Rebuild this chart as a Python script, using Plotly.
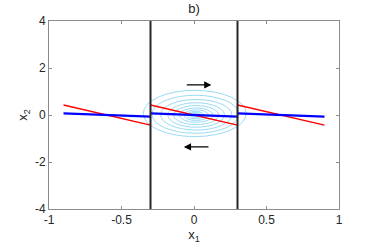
import plotly.graph_objects as go

# ---- data ----
region_centers = [-0.6, 0.0, 0.6]      # centre of each linear segment (x1)
seg_half_width = 0.3
red_y_ends = [0.43, -0.43]             # red line x2 at segment start / end
blue_y_ends = [0.065, -0.065]          # blue line x2 at segment start / end
switch_x = [-0.3, 0.3]                 # vertical boundaries
switch_y = [-4, 4]

# spiral rings (x0, x1, y0, y1) from outermost to innermost
ring_x0 = [-0.35, -0.29, -0.23, -0.18, -0.14, -0.10, -0.07, -0.05, -0.03, -0.015]
ring_x1 = [0.36, 0.31, 0.26, 0.21, 0.17, 0.13, 0.10, 0.07, 0.05, 0.03]
ring_y0 = [-0.92, -0.78, -0.64, -0.52, -0.41, -0.31, -0.23, -0.16, -0.1, -0.06]
ring_y1 = [1.05, 0.84, 0.66, 0.52, 0.4, 0.3, 0.22, 0.15, 0.1, 0.06]

# arrows (tail x, head x, x2 level)
arrow_top = (-0.06, 0.12, 1.28)
arrow_bot = (0.11, -0.07, -1.36)

x_ticks = [-1, -0.5, 0, 0.5, 1]
x_labels = ["-1", "-0.5", "0", "0.5", "1"]
y_ticks = [-4, -2, 0, 2, 4]
y_labels = ["-4", "-2", "0", "2", "4"]

FONT = "Liberation Sans, Arial"
TXT = "#262626"

# ---- build traces ----
def segs(yends):
    xs, ys = [], []
    for c in region_centers:
        xs += [c - seg_half_width, c + seg_half_width, None]
        ys += [yends[0], yends[1], None]
    return xs, ys

fig = go.Figure()

for i in range(len(ring_x0)):
    fig.add_shape(type="circle", xref="x", yref="y",
                  x0=ring_x0[i], x1=ring_x1[i], y0=ring_y0[i], y1=ring_y1[i],
                  line=dict(color="#4DBEEE", width=0.7), opacity=0.8, layer="below")

rx, ry = segs(red_y_ends)
fig.add_trace(go.Scatter(x=rx, y=ry, mode="lines",
                         line=dict(color="#FF0000", width=1.5), hoverinfo="skip"))
bx, by = segs(blue_y_ends)
fig.add_trace(go.Scatter(x=bx, y=by, mode="lines",
                         line=dict(color="#0000FF", width=2.2), hoverinfo="skip"))

vx, vy = [], []
for s in switch_x:
    vx += [s, s, None]
    vy += [switch_y[0], switch_y[1], None]
fig.add_trace(go.Scatter(x=vx, y=vy, mode="lines",
                         line=dict(color="#262626", width=2), hoverinfo="skip"))

for tail, head, lvl in (arrow_top, arrow_bot):
    fig.add_annotation(x=head, y=lvl, ax=tail, ay=lvl, xref="x", yref="y",
                       axref="x", ayref="y", text="", showarrow=True,
                       arrowhead=2, arrowsize=1.2, arrowwidth=1.2, arrowcolor="#000000")

axis_common = dict(showline=True, mirror="ticks", linecolor="#8c8c8c", linewidth=1,
                   ticks="inside", ticklen=3, tickcolor="#8c8c8c",
                   showgrid=False, zeroline=False, automargin=False,
                   tickfont=dict(family=FONT, size=12, color=TXT))

fig.update_layout(
    width=374, height=252,
    margin=dict(l=49, r=35, t=21, b=43),
    paper_bgcolor="white", plot_bgcolor="white",
    showlegend=False,
    title=dict(text="b)", x=0.5, xref="paper", xanchor="center",
               y=1, yref="container", yanchor="top", pad=dict(t=4),
               automargin=False,
               font=dict(family=FONT, size=13, color=TXT)),
    xaxis=dict(range=[-1, 1], tickvals=x_ticks, ticktext=x_labels,
               title=dict(text="x<sub>1</sub>", standoff=2,
                          font=dict(family=FONT, size=13, color=TXT)),
               **axis_common),
    yaxis=dict(range=[-4, 4], tickvals=y_ticks, ticktext=y_labels,
               title=dict(text="x<sub>2</sub>", standoff=4,
                          font=dict(family=FONT, size=13, color=TXT)),
               **axis_common),
)

# remove the browser's default 8px body margin so the figure fills the window
fig.write_html("out.html",
               config={"displayModeBar": False, "staticPlot": True},
               post_script="document.body.style.margin='0';document.body.style.overflow='hidden';")
